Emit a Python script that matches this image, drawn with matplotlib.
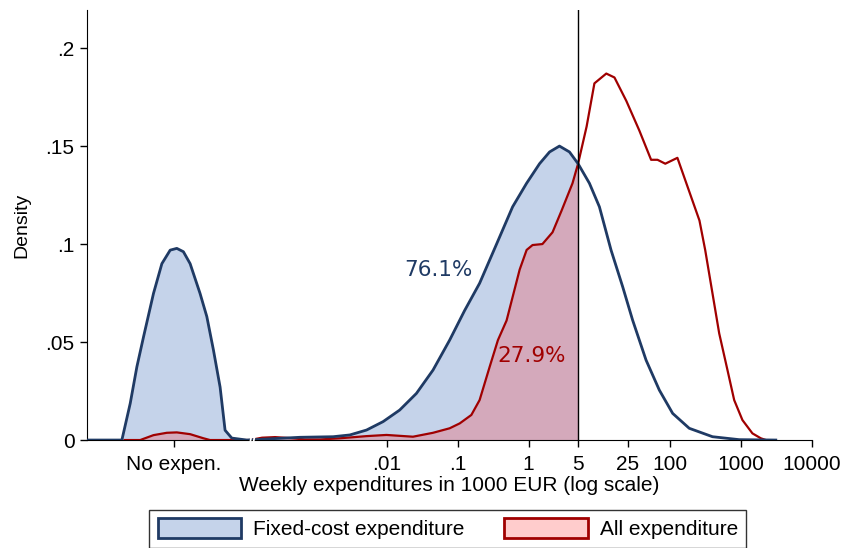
import numpy as np
import matplotlib.pyplot as plt
from matplotlib.patches import Patch

# weekly expenditures in 1000 EUR; the "No expen." bump sits around 1e-5
fixed_x = [5.9e-7, 1.83e-6, 2.40e-6, 2.98e-6, 3.70e-6, 5.11e-6, 6.71e-6, 8.79e-6, 1.09e-5,
           1.35e-5, 1.68e-5, 2.32e-5, 2.89e-5, 3.58e-5, 4.45e-5, 5.23e-5, 6.50e-5, 1.06e-4,
           5.96e-4, 1.75e-3, 3.01e-3, 5.18e-3, 8.87e-3, 0.0152, 0.0262, 0.0449, 0.0771,
           0.125, 0.204, 0.354, 0.596, 0.938, 1.43, 1.98, 2.73, 3.78, 5.0, 7.23, 10,
           14.6, 21.3, 29.4, 45.5, 70.0, 108, 185, 394, 937, 3080]
fixed_y = [0, 0, 0.0187, 0.0374, 0.0527, 0.0748, 0.090, 0.0969, 0.0978,
           0.0961, 0.090, 0.0748, 0.063, 0.046, 0.027, 0.005, 0.001, 0,
           0.0014, 0.0017, 0.0026, 0.0051, 0.0094, 0.0153, 0.0238, 0.0357, 0.051,
           0.066, 0.080, 0.100, 0.119, 0.131, 0.141, 0.147, 0.150, 0.147, 0.141, 0.131, 0.119,
           0.0969, 0.0782, 0.0612, 0.0408, 0.0255, 0.0136, 0.006, 0.0017, 0.0002, 0]

all_x = [2e-6, 3.32e-6, 5.11e-6, 7.88e-6, 1.09e-5, 1.68e-5, 2.59e-5, 3.21e-5,
         1.17e-4, 1.74e-4, 2.65e-4, 4.3e-4, 7.0e-4, 1.15e-3, 2.18e-3, 5.18e-3, 9.9e-3,
         0.0234, 0.0449, 0.0771, 0.107, 0.156, 0.204, 0.283, 0.37, 0.49, 0.75,
         0.94, 1.14, 1.57, 2.18, 2.92, 4.17, 5.0, 6.6, 8.5, 12.5, 16.3, 24, 36.5,
         53.6, 66, 85, 126, 258, 311, 394, 490, 641, 797, 1042, 1442, 1892, 2230]
all_y = [0, 0, 0.0025, 0.0037, 0.0039, 0.003, 0.0009, 0,
         0, 0.0012, 0.0015, 0.001, 0.0003, 0.0003, 0.0009, 0.002, 0.0026,
         0.0017, 0.0037, 0.006, 0.0085, 0.0128, 0.0204, 0.0374, 0.051, 0.061, 0.087,
         0.097, 0.0995, 0.100, 0.106, 0.117, 0.131, 0.141, 0.160, 0.182, 0.187, 0.185,
         0.173, 0.158, 0.143, 0.143, 0.141, 0.144, 0.112, 0.0969, 0.0748, 0.0544,
         0.0357, 0.0204, 0.0102, 0.0034, 0.0009, 0]

tick_vals = [1e-5, 0.01, 0.1, 1, 5, 25, 100, 1000, 10000]
tick_labels = ["No expen.", ".01", ".1", "1", "5", "25", "100", "1000", "10000"]
y_ticks = [0, 0.05, 0.1, 0.15, 0.2]
y_labels = ["0", ".05", ".1", ".15", ".2"]

cutoff = 5
share_fixed = "76.1%"
share_all = "27.9%"

navy = "#1f3a64"
red = "#a00000"

plt.rcParams['font.family'] = ['Liberation Sans', 'DejaVu Sans']

fig = plt.figure(figsize=(8.45, 5.48), dpi=100)
ax = fig.add_axes([0.103, 0.197, 0.858, 0.785])

fx = np.array(fixed_x)
fy = np.array(fixed_y)
axx = np.array(all_x)
ay = np.array(all_y)

ax.fill_between(fx, 0, fy, where=fx <= cutoff, color="#c5d3ea", lw=0, zorder=1)
ax.fill_between(axx, 0, ay, where=axx <= cutoff, color="#d4a9bb", lw=0, zorder=2)
ax.plot(axx, ay, color=red, lw=1.6, zorder=3)
ax.plot(fx, fy, color=navy, lw=2.0, zorder=4)
ax.axvline(cutoff, color="black", lw=1.0, zorder=5)

# axis break marks
ax.text(1.3e-4, 0.0005, "//", color="white", fontweight="bold", fontsize=11,
        ha="center", va="center", zorder=6)

ax.text(0.163, 0.0867, share_fixed, color=navy, fontsize=15.5, ha="right", va="center",
        family="DejaVu Sans")
ax.text(0.366, 0.043, share_all, color=red, fontsize=15.5, ha="left", va="center",
        family="DejaVu Sans")

ax.set_xscale("log")
ax.set_xlim(5.9e-7, 1e4)
ax.set_ylim(0, 0.2195)
ax.set_xticks(tick_vals)
ax.set_xticklabels(tick_labels)
ax.minorticks_off()
ax.set_yticks(y_ticks)
ax.set_yticklabels(y_labels)
ax.tick_params(labelsize=15, length=5, width=1, pad=4)
ax.tick_params(axis="x", pad=6)
ax.spines["top"].set_visible(False)
ax.spines["right"].set_visible(False)
ax.set_xlabel("Weekly expenditures in 1000 EUR (log scale)", fontsize=15, labelpad=1)
ax.set_ylabel("Density", fontsize=14, labelpad=11)

handles = [Patch(facecolor="#c5d3ea", edgecolor=navy, lw=2, label="Fixed-cost expenditure"),
           Patch(facecolor="#ffcccc", edgecolor=red, lw=2, label="All expenditure")]
fig.legend(handles=handles, loc="upper center", bbox_to_anchor=(0.530, 0.0693), ncol=2,
           fontsize=15, frameon=True, fancybox=False, edgecolor="black",
           handlelength=4.0, handleheight=1.1, handletextpad=0.58, columnspacing=1.9,
           borderpad=0.4, borderaxespad=0)

fig.savefig("out.png", dpi=100)
